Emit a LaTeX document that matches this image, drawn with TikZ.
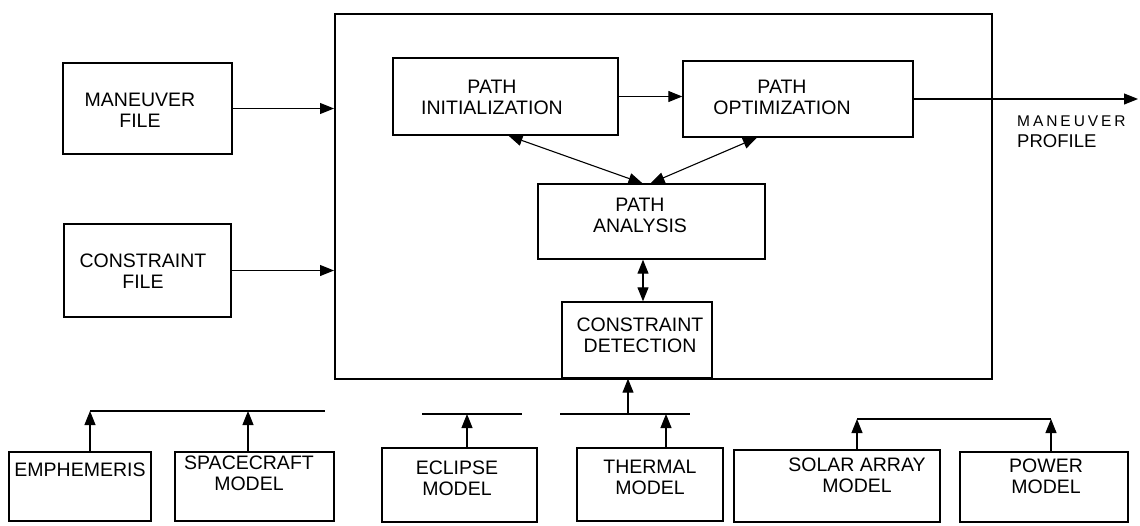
\documentclass[tikz,border=0pt]{standalone}
\usepackage{fontspec}
\setmainfont{Liberation Sans}
\usetikzlibrary{arrows.meta}
\begin{document}
\begin{tikzpicture}[x=1pt,y=-1pt,
  box/.style={draw, line width=1.4pt, inner sep=0pt},
  sysbox/.style={draw, line width=2pt, inner sep=0pt},
  lbl/.style={font=\fontsize{19.5}{21}\selectfont, align=center, inner sep=0pt},
  conn/.style={line width=1.1pt},
  arr/.style={conn, -{Triangle[length=14pt,width=11pt]}},
  darr/.style={conn, {Triangle[length=14pt,width=11pt]}-{Triangle[length=14pt,width=11pt]}}]
\useasboundingbox (0,0) rectangle (1140,525);

% system boundary
\node[sysbox, minimum width=657pt, minimum height=365pt] (sys) at (663.5,196.5) {};

% input files
\node[box, minimum width=169pt, minimum height=91pt] (mf) at (147.5,108.5) {};
\node[lbl] (mft) at (140,110) {MANEUVER\\FILE};
\node[box, minimum width=167pt, minimum height=93pt] (cf) at (147.5,270.5) {};
\node[lbl] (cft) at (143,271) {CONSTRAINT\\FILE};

% inner processes
\node[box, minimum width=225pt, minimum height=77pt] (pi) at (505.5,96.5) {};
\node[lbl] (pit) at (492,97) {PATH\\INITIALIZATION};
\node[box, minimum width=230pt, minimum height=76pt] (po) at (798,99) {};
\node[lbl] (pot) at (782,97) {PATH\\OPTIMIZATION};
\node[box, minimum width=227pt, minimum height=75pt] (pa) at (651.5,221.5) {};
\node[lbl] (pat) at (640,215) {PATH\\ANALYSIS};
\node[box, minimum width=150pt, minimum height=76pt] (cd) at (637,340) {};
\node[lbl] (cdt) at (640,335) {CONSTRAINT\\DETECTION};

% output
\coordinate (out) at (1138,98);
\node[inner sep=0pt, anchor=north west] (mpa) at (1017,116)
  {\fontsize{15.5}{18}\selectfont\addfontfeature{LetterSpace=19}MANEUVER};
\node[inner sep=0pt, anchor=north west] (mpb) at (1017,134)
  {\fontsize{18.5}{20}\selectfont PROFILE};

% models
\node[box, minimum width=142pt, minimum height=69pt] (em) at (80,486.5) {};
\node[lbl] (emt) at (80,470) {EMPHEMERIS};
\node[box, minimum width=159pt, minimum height=69pt] (sc) at (254.5,486.5) {};
\node[lbl] (sct) at (249,473) {SPACECRAFT\\MODEL};
\node[box, minimum width=155pt, minimum height=74pt] (ec) at (459.5,485) {};
\node[lbl] (ect) at (457,478) {ECLIPSE\\MODEL};
\node[box, minimum width=146pt, minimum height=73pt] (th) at (650,484.5) {};
\node[lbl] (tht) at (650,477) {THERMAL\\MODEL};
\node[box, minimum width=206pt, minimum height=72pt] (sa) at (837,486) {};
\node[lbl] (sat) at (857,475) {SOLAR ARRAY\\MODEL};
\node[box, minimum width=168pt, minimum height=70pt] (pw) at (1044,487) {};
\node[lbl] (pwt) at (1046,476) {POWER\\MODEL};

% bus coordinates
\coordinate (busA1) at (90,411);
\coordinate (busA2) at (325,411);
\coordinate (busA3) at (248,411);
\coordinate (busB1) at (422,414);
\coordinate (busB2) at (522,414);
\coordinate (busB3) at (467,414);
\coordinate (busC1) at (560,414);
\coordinate (busC2) at (690,414);
\coordinate (busC3) at (666,414);
\coordinate (busT) at (628,414);
\coordinate (busD1) at (857,419);
\coordinate (busD2) at (1051,419);

% connectors: inputs
\draw[arr] (mf.east) -- (mf.east -| sys.west);
\draw[arr] (cf.east) -- (cf.east -| sys.west);

% connectors: process chain
\draw[arr] (pi.east) -- (pi.east -| po.west);
\draw[arr] (po.east) -- (po.east -| out);
\draw[darr] ([xshift=3pt]pi.south) -- ([xshift=-9pt]pa.north);
\draw[darr] ([xshift=-41pt]po.south) -- ([xshift=-1pt]pa.north);
\draw[darr] ([xshift=6pt]pa.south -| cd.north) -- ([xshift=6pt]cd.north);

% connectors: models to buses
\draw[conn] (busA1) -- (busA2);
\draw[arr] (em.north -| busA1) -- (busA1);
\draw[arr] (sc.north -| busA3) -- (busA3);
\draw[conn] (busB1) -- (busB2);
\draw[arr] (ec.north -| busB3) -- (busB3);
\draw[conn] (busC1) -- (busC2);
\draw[arr] (th.north -| busC3) -- (busC3);
\draw[arr] (busT) -- (busT |- cd.south);
\draw[conn] (busD1) -- (busD2);
\draw[arr] (sa.north -| busD1) -- (busD1);
\draw[arr] (pw.north -| busD2) -- (busD2);
\end{tikzpicture}
\end{document}
